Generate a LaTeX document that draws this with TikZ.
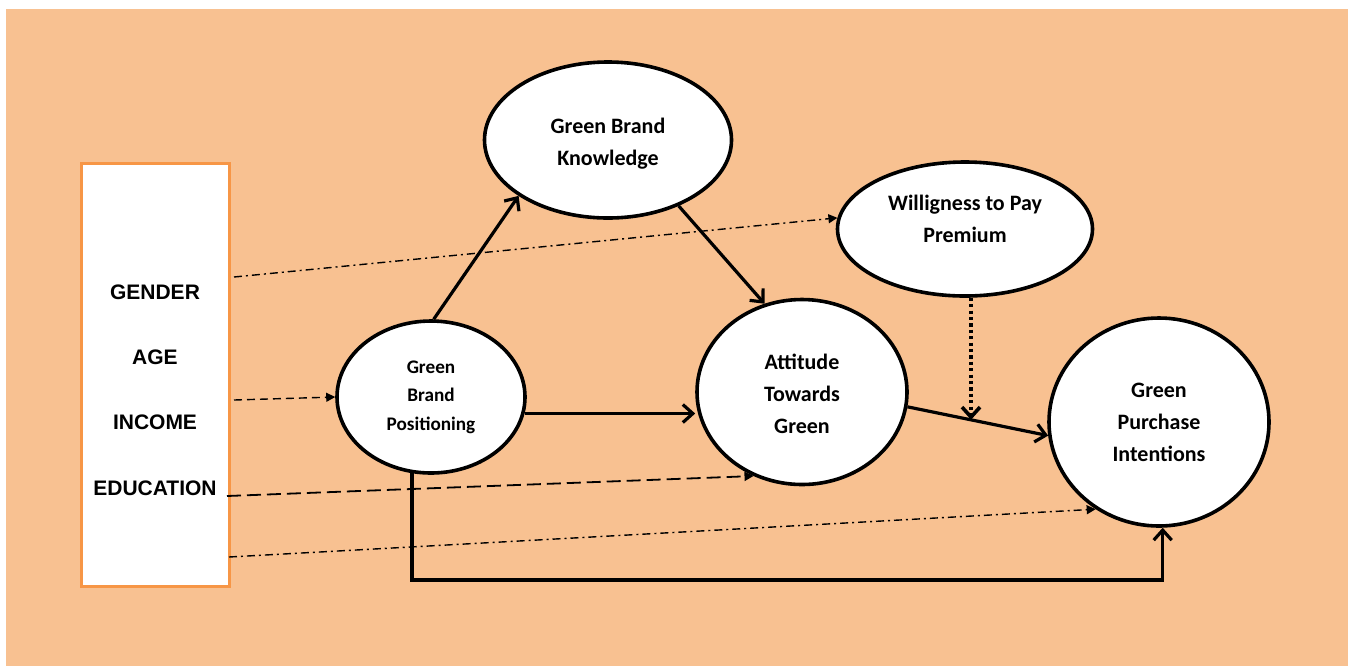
\documentclass[tikz,border=0pt]{standalone}
\usepackage{fontspec}
\setmainfont{Carlito}
\newfontfamily\capsfont{Liberation Sans}
\usetikzlibrary{shapes.geometric,arrows.meta}
\definecolor{peach}{RGB}{248,193,145}
\definecolor{boxorange}{RGB}{247,150,70}
\begin{document}
\begin{tikzpicture}[x=0.5pt,y=-0.5pt,
  oval/.style={ellipse, draw=black, line width=1.8pt, fill=white, inner sep=0pt},
  ovaltext/.style={align=center, font=\fontsize{11}{16}\selectfont\bfseries, inner sep=0pt},
  smalltext/.style={align=center, font=\fontsize{9.6}{14.2}\selectfont\bfseries, inner sep=0pt},
  varlabel/.style={font=\capsfont\fontsize{10.5}{12}\selectfont\bfseries, inner sep=0pt},
  mainarrow/.style={line width=1.6pt, -{Straight Barb[length=5pt,width=9pt]}},
  dottedarrow/.style={line width=1.8pt, dash pattern=on 1.6pt off 1.6pt,
    -{Straight Barb[length=5pt,width=9pt]}},
  ctrlarrow/.style={line width=0.7pt, -{Triangle[length=4.5pt,width=4.5pt]}},
  dashdotline/.style={ctrlarrow, dash pattern=on 4pt off 2pt on 1pt off 2pt},
  shortdash/.style={ctrlarrow, dash pattern=on 4pt off 2.5pt},
  longdash/.style={ctrlarrow, line width=0.9pt, dash pattern=on 7pt off 3pt}
]
% canvas
\useasboundingbox (0,0) rectangle (1348,666);
\fill[white] (0,0) rectangle (1348,666);
\fill[peach] (6,9) rectangle (1348,666);

% control variables
\node[draw=boxorange, line width=1.5pt, fill=white, minimum width=74pt,
  minimum height=211.5pt, inner sep=0pt] (box) at (155,374.5) {};
\node[varlabel] (gender) at (155,292) {GENDER};
\node[varlabel] (age) at (155,357) {AGE};
\node[varlabel] (income) at (155,422) {INCOME};
\node[varlabel] (education) at (155,488) {EDUCATION};

% constructs
\node[oval, minimum width=94pt, minimum height=76pt] (gbp) at (431,397) {};
\node[smalltext] (gbp-t) at (431,397) {Green\\Brand\\Positioning};

\node[oval, minimum width=123.5pt, minimum height=78pt] (gbk) at (608,140) {};
\node[ovaltext] (gbk-t) at (608,144) {Green Brand\\Knowledge};

\node[oval, minimum width=127.5pt, minimum height=67pt] (wtp) at (965,229) {};
\node[ovaltext] (wtp-t) at (965,219) {Willigness to Pay\\Premium};

\node[oval, minimum width=105pt, minimum height=92.5pt] (atg) at (802,392) {};
\node[ovaltext] (atg-t) at (802,394) {Attitude\\Towards\\Green};

\node[oval, minimum width=110pt, minimum height=104pt] (gpi) at (1159,422) {};
\node[ovaltext] (gpi-t) at (1159,422) {Green\\Purchase\\Intentions};

% starting points on the control box
\coordinate (s1) at (234,277);
\coordinate (s2) at (234,400);
\coordinate (s3) at (227,496);
\coordinate (s4) at (229,557);
\coordinate (low) at (0,580);

% control paths
\draw[dashdotline] (s1) -- (wtp.175);
\draw[shortdash] (s2) -- (gbp.west);
\draw[longdash] (s3) -- (atg.240);
\draw[dashdotline] (s4) -- (gpi.234);

% structural paths
\draw[mainarrow] (gbp.88) -- (gbk.212);
\draw[mainarrow] (gbk.317) -- (atg.113);
\draw[mainarrow] (gbp.-10) -- (gbp.-10 -| atg.west);
\draw[mainarrow] (atg.-8) -- (gpi.187);
\draw[mainarrow] (gbp.256) -- (gbp.256 |- low) -| (gpi.-88);

% moderation
\path (atg.-8) -- (gpi.187) coordinate[pos=0.45] (mod);
\draw[dottedarrow] (wtp.-85) -- (wtp.-85 |- mod);
\end{tikzpicture}
\end{document}
